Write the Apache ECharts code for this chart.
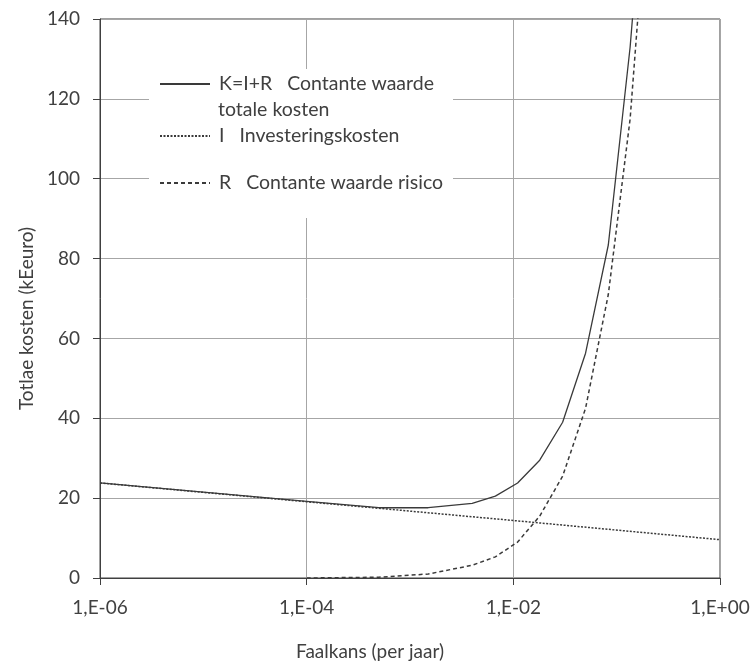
<!DOCTYPE html>
<html>
<head>
<meta charset="utf-8">
<script src="https://cdn.jsdelivr.net/npm/echarts@6/dist/echarts.min.js"></script>
<style>
  html, body { margin: 0; padding: 0; background: #fff; }
  #chart { width: 753px; height: 663px; }
</style>
</head>
<body>
<div id="chart"></div>
<script>
// Failure probability per year (x) and cost in kEuro (y)
const investProb  = [1e-6, 1e-4, 1e-2, 1];
const investCost  = [23.8, 19.1, 14.4, 9.6];

const totalProb   = [1e-6, 1e-5, 1e-4, 5e-4, 1.5e-3, 4e-3, 0.0067, 0.011, 0.018, 0.030, 0.050, 0.083, 0.135, 0.22];
const totalCost   = [23.8, 21.5, 19.2, 17.6, 17.6, 18.7, 20.5, 23.8, 29.5, 39.0, 56.3, 83.4, 133, 200];

const riskProb    = [1e-4, 5e-4, 1.5e-3, 4e-3, 0.0067, 0.011, 0.018, 0.030, 0.050, 0.083, 0.135, 0.22];
const riskCost    = [0, 0.2, 1.0, 3.2, 5.3, 9.0, 15.5, 25.5, 42.5, 71, 115, 187];

const xTickLabels = { '-6': '1,E-06', '-4': '1,E-04', '-2': '1,E-02', '0': '1,E+00' };
const yTicks      = [0, 20, 40, 60, 80, 100, 120, 140];

const nameK = 'K=I+R   Contante waarde';
const nameK2 = 'totale kosten';
const nameI = 'I   Investeringskosten';
const nameR = 'R   Contante waarde risico';

const pairs = (xs, ys) => xs.map((x, i) => [x, ys[i]]);

const FONT = 'Lato';
const FS = 19;
const TEXT = '#404040';
const AXIS = '#404040';
const GRID = '#a6a6a6';
const LINE = '#3a3a3a';

const chart = echarts.init(document.getElementById('chart'), null, { renderer: 'canvas' });

// Legend rows: line sample only, no point marker
const legendBase = {
  orient: 'horizontal',
  left: 159,
  padding: 0,
  itemWidth: 50,
  itemHeight: 14,
  itemGap: 0,
  selectedMode: false,
  z: 6,
  itemStyle: { opacity: 0, borderWidth: 0 },
  textStyle: { fontFamily: FONT, fontSize: 19.5, color: TEXT, lineHeight: 14, padding: [0, 0, 0, 4] }
};

chart.setOption({
  animation: false,
  backgroundColor: '#fff',
  grid: {
    left: 100, right: 33, top: 19, bottom: 85,
    outerBoundsMode: 'none',
    containLabel: false,
    show: true, borderColor: AXIS, borderWidth: 1, backgroundColor: 'transparent'
  },
  legend: [
    Object.assign({}, legendBase, { top: 74, data: [nameK] }),
    Object.assign({}, legendBase, { top: 126, data: [nameI] }),
    Object.assign({}, legendBase, { top: 173, data: [nameR] })
  ],
  graphic: [
    { type: 'rect', left: 149, top: 69, z: 3, shape: { width: 304, height: 149 }, style: { fill: '#fff' } },
    { type: 'text', left: 218, top: 100, z: 6, style: { text: nameK2, font: '19.5px ' + FONT, fill: TEXT } }
  ],
  xAxis: {
    type: 'log',
    logBase: 10,
    min: 1e-6,
    max: 1,
    interval: 2,
    name: 'Faalkans (per jaar)',
    nameLocation: 'middle',
    nameGap: 64,
    nameTextStyle: { fontFamily: FONT, fontSize: FS, color: TEXT, padding: [0, 80, 0, 0] },
    axisLine: { show: true, lineStyle: { color: AXIS, width: 1 } },
    axisTick: { show: true, length: 7, lineStyle: { color: AXIS } },
    axisLabel: {
      margin: 20, fontFamily: FONT, fontSize: FS, color: TEXT,
      formatter: v => xTickLabels[String(Math.round(Math.log10(v)))] || ''
    },
    splitLine: { show: true, lineStyle: { color: GRID, width: 1 } },
    minorTick: { show: false },
    minorSplitLine: { show: false }
  },
  yAxis: {
    type: 'value',
    min: yTicks[0],
    max: yTicks[yTicks.length - 1],
    interval: 20,
    name: 'Totlae kosten (kEeuro)',
    nameLocation: 'middle',
    nameGap: 58,
    nameTextStyle: { fontFamily: FONT, fontSize: FS, color: TEXT, padding: [0, 40, 0, 0] },
    axisLine: { show: true, lineStyle: { color: AXIS, width: 1 } },
    axisTick: { show: true, length: 7, lineStyle: { color: AXIS } },
    axisLabel: { margin: 20, fontFamily: FONT, fontSize: FS, color: TEXT },
    splitLine: { show: true, lineStyle: { color: GRID, width: 1 } }
  },
  series: [
    {
      name: nameK, type: 'line', data: pairs(totalProb, totalCost),
      symbol: 'none', clip: true, z: 4,
      lineStyle: { color: LINE, width: 1.3, type: 'solid' },
      itemStyle: { color: LINE }
    },
    {
      name: nameI, type: 'line', data: pairs(investProb, investCost),
      symbol: 'none', clip: true, z: 4,
      lineStyle: { color: LINE, width: 1.5, type: [2, 1.5] },
      itemStyle: { color: LINE }
    },
    {
      name: nameR, type: 'line', data: pairs(riskProb, riskCost),
      symbol: 'none', clip: true, z: 4,
      lineStyle: { color: LINE, width: 1.5, type: [4, 3] },
      itemStyle: { color: LINE }
    }
  ]
});
</script>
</body>
</html>
